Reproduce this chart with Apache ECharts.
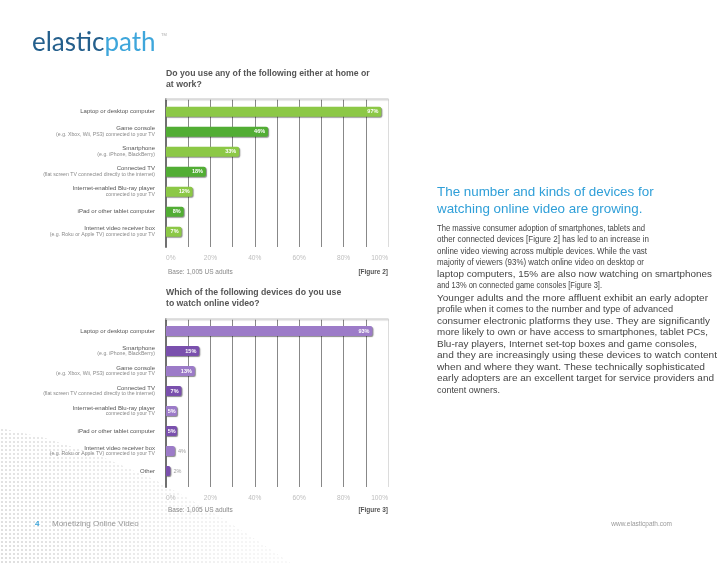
<!DOCTYPE html>
<html><head><meta charset="utf-8">
<script src="https://cdn.jsdelivr.net/npm/echarts@6/dist/echarts.min.js"></script>
<style>html,body{margin:0;padding:0;background:#fff}#c{width:728px;height:563px}</style>
</head><body><div id="c"></div>
<script>
// ---- data ----
const fig2Main = ['Laptop or desktop computer','Game console','Smartphone','Connected TV','Internet-enabled Blu-ray player','iPad or other tablet computer','Internet video receiver box'];
const fig2Sub = ['','(e.g. Xbox, Wii, PS3) connected to your TV','(e.g. iPhone, BlackBerry)','(flat screen TV connected directly to the internet)','connected to your TV','','(e.g. Roku or Apple TV) connected to your TV'];
const fig2Values = [97,46,33,18,12,8,7];

const fig3Main = ['Laptop or desktop computer','Smartphone','Game console','Connected TV','Internet-enabled Blu-ray player','iPad or other tablet computer','Internet video receiver box','Other'];
const fig3Sub = ['','(e.g. iPhone, BlackBerry)','(e.g. Xbox, Wii, PS3) connected to your TV','(flat screen TV connected directly to the internet)','connected to your TV','','(e.g. Roku or Apple TV) connected to your TV',''];
const fig3Values = [93,15,13,7,5,5,4,2];

const tickLabels = ['0%','20%','40%','60%','80%','100%'];

const title2 = 'Do you use any of the following either at home or\nat work?';
const title3 = 'Which of the following devices do you use\nto watch online video?';
const base2 = 'Base: 1,005 US adults';
const fig2Tag = '[Figure 2]';
const fig3Tag = '[Figure 3]';

const heading = 'The number and kinds of devices for\nwatching online video are growing.';
const para1 = [
 'The massive consumer adoption of smartphones, tablets and',
 'other connected devices [Figure 2] has led to an increase in',
 'online video viewing across multiple devices. While the vast',
 'majority of viewers (93%) watch online video on desktop or',
 'laptop computers, 15% are also now watching on smartphones',
 'and 13% on connected game consoles [Figure 3].'];
const para2 = [
 'Younger adults and the more affluent exhibit an early adopter',
 'profile when it comes to the number and type of advanced',
 'consumer electronic platforms they use. They are significantly',
 'more likely to own or have access to smartphones, tablet PCs,',
 'Blu-ray players, Internet set-top boxes and game consoles,',
 'and they are increasingly using these devices to watch content',
 'when and where they want. These technically sophisticated',
 'early adopters are an excellent target for service providers and',
 'content owners.'];

// ---- styling (layout only) ----
const FONT = 'Liberation Sans, Arial, sans-serif';
const GREEN = ['#8cc846','#52ad34'];
const PURPLE = ['#9c7bc8','#7a50ad'];
const L = 166, R = 340;
const para1Right = [645, 649, 647, 644, 712, 602];
const para2Right = [708, 673, 710, 708, 697, 717, 705, 714, 500];

function catAxisLabel(main, sub){
  return {
    margin: 11,
    formatter: (v, i) => sub[i] ? '{a|' + main[i] + '}\n{b|' + sub[i] + '}' : '{a|' + main[i] + '}',
    rich: {
      a: {fontSize: 6, color: '#555', lineHeight: 6, fontFamily: FONT, align: 'right'},
      b: {fontSize: 5.2, color: '#8a8a8a', lineHeight: 6, fontFamily: FONT, align: 'right'}
    }
  };
}
const gridColors = ['#888','#888','#888','#888','#888','#888','#888','#888','#888','#888','#dcdcdc'];
function frameX(gi){
  return {
    gridIndex: gi, type: 'value', min: 0, max: 100, interval: 10, position: 'bottom',
    axisLine: {show: false}, axisTick: {show: false},
    splitLine: {show: true, lineStyle: {color: gridColors, width: 1}},
    axisLabel: {
      margin: 8, color: '#bdbdbd', fontSize: 6.6, fontFamily: FONT,
      alignMinLabel: 'left', alignMaxLabel: 'right',
      formatter: v => (v % 20 === 0) ? tickLabels[v / 20] : ''
    }
  };
}
function frameTop(gi){
  return {gridIndex: gi, type: 'value', min: 0, max: 100, position: 'top',
    axisLine: {show: true, lineStyle: {color: '#d6d6d6', width: 1.5, shadowColor: 'rgba(0,0,0,0.12)', shadowOffsetY: 1, shadowBlur: 1}},
    axisTick: {show: false}, axisLabel: {show: false}, splitLine: {show: false}};
}
function hiddenX(gi){
  return {gridIndex: gi, type: 'value', min: 0, max: 100, show: false, splitLine: {show: false}};
}
function frameY(gi){
  return {gridIndex: gi, type: 'value', min: 0, max: 1,
    axisLine: {show: true, onZero: false, lineStyle: {color: '#707070', width: 2}},
    axisTick: {show: false}, axisLabel: {show: false}, splitLine: {show: false}};
}
function catY(gi, main, sub){
  return {gridIndex: gi, type: 'category', inverse: true, data: main,
    axisLine: {show: false}, axisTick: {show: false}, splitLine: {show: false},
    axisLabel: catAxisLabel(main, sub)};
}
function barSeries(xi, yi, values, colors){
  return {
    type: 'bar', xAxisIndex: xi, yAxisIndex: yi, barWidth: 10,
    itemStyle: {
      color: p => colors[p.dataIndex % 2],
      borderRadius: [0, 2, 2, 0],
      shadowColor: 'rgba(0,0,0,0.45)', shadowOffsetX: 1, shadowOffsetY: 1, shadowBlur: 1
    },
    label: {
      show: true, fontSize: 5.5, fontWeight: 'bold', fontFamily: FONT,
      formatter: p => p.value + '%',
      position: 'insideRight', distance: 3, color: '#fff'
    },
    data: values.map(v => v < 5
      ? {value: v, label: {position: 'right', distance: 3, color: '#a0a0a0', fontWeight: 'normal'}}
      : (v <= 6 ? {value: v, label: {distance: 1.5}} : v))
  };
}

// halftone pattern
const pc = document.createElement('canvas');
pc.width = 4; pc.height = 4;
const pctx = pc.getContext('2d');
pctx.fillStyle = '#cdcdcd';
pctx.beginPath(); pctx.arc(2, 2, 1.0, 0, Math.PI * 2); pctx.fill();
const dotPoly = [[0,428],[45,438],[100,456],[155,480],[205,508],[250,536],[290,563],[0,563]];

// body text lines, each fitted to the width it has in the reference
const mctx = document.createElement('canvas').getContext('2d');
const BODY_FONT = '9.3px ' + FONT;
mctx.font = BODY_FONT;
function textLines(lines, rights, x, y, lh){
  return lines.map((t, i) => {
    const w = mctx.measureText(t).width;
    const s = (rights[i] - x) / w;
    return {type: 'text', x: x, y: y + i * lh, scaleX: s,
      style: {text: t, font: BODY_FONT, fill: '#454545', verticalAlign: 'middle'}};
  });
}

const chart = echarts.init(document.getElementById('c'), null, {renderer: 'canvas'});
chart.setOption({
  animation: false,
  backgroundColor: '#fff',
  title: [
    {text: title2, left: L, top: 68, padding: 0, textStyle: {fontSize: 8.7, fontWeight: 'bold', color: '#555', lineHeight: 11, fontFamily: FONT}},
    {text: title3, left: L, top: 287, padding: 0, textStyle: {fontSize: 8.7, fontWeight: 'bold', color: '#555', lineHeight: 11, fontFamily: FONT}}
  ],
  grid: [
    {left: L, right: R, top: 99, height: 148},
    {left: L, right: R, top: 101.7, height: 140},
    {left: L, right: R, top: 319, height: 168},
    {left: L, right: R, top: 321, height: 160}
  ],
  xAxis: [frameX(0), frameTop(0), hiddenX(1), frameX(2), frameTop(2), hiddenX(3)],
  yAxis: [frameY(0), catY(1, fig2Main, fig2Sub), frameY(2), catY(3, fig3Main, fig3Sub)],
  series: [
    barSeries(2, 1, fig2Values, GREEN),
    barSeries(5, 3, fig3Values, PURPLE)
  ],
  graphic: [
    {type: 'polygon', silent: true, z: -10, shape: {points: dotPoly}, style: {fill: {image: pc, repeat: 'repeat'}}},
    {type: 'polygon', silent: true, z: -9, shape: {points: dotPoly},
      style: {fill: new echarts.graphic.LinearGradient(0, 1, 1, 0, [
        {offset: 0, color: 'rgba(255,255,255,0.15)'},
        {offset: 0.5, color: 'rgba(255,255,255,0.55)'},
        {offset: 1, color: 'rgba(255,255,255,1)'}])}},
    // logo
    {type: 'text', x: 32, y: 43, style: {text: '{a|elastic}{b|path}', verticalAlign: 'middle',
      rich: {a: {fontSize: 26, fontFamily: 'Lato', fill: '#245f8c'},
             b: {fontSize: 26, fontFamily: 'Lato', fill: '#3ea6db'}}}},
    {type: 'text', x: 161, y: 33, style: {text: 'TM', font: '4px ' + FONT, fill: '#aaa'}},
    // base & figure tags
    {type: 'text', left: 168, top: 269, style: {text: base2, font: '6.5px ' + FONT, fill: '#888'}},
    {type: 'text', right: 340, top: 269, style: {text: fig2Tag, font: 'bold 6.5px ' + FONT, fill: '#555'}},
    {type: 'text', left: 168, top: 507, style: {text: base2, font: '6.5px ' + FONT, fill: '#888'}},
    {type: 'text', right: 340, top: 507, style: {text: fig3Tag, font: 'bold 6.5px ' + FONT, fill: '#555'}},
    // heading
    {type: 'text', left: 437, top: 184, style: {text: heading, font: '13.4px ' + FONT, fill: '#2f9fd8', lineHeight: 17}},
    ...textLines(para1, para1Right, 437, 228, 11.5),
    ...textLines(para2, para2Right, 437, 298, 11.5),
    // footer
    {type: 'text', left: 35, top: 520, style: {text: '4', font: 'bold 8px ' + FONT, fill: '#3ea6db'}},
    {type: 'text', left: 52, top: 520, style: {text: 'Monetizing Online Video', font: '8px ' + FONT, fill: '#999'}},
    {type: 'text', right: 56, top: 521, style: {text: 'www.elasticpath.com', font: '6.5px ' + FONT, fill: '#999'}}
  ]
});
</script>
</body></html>
